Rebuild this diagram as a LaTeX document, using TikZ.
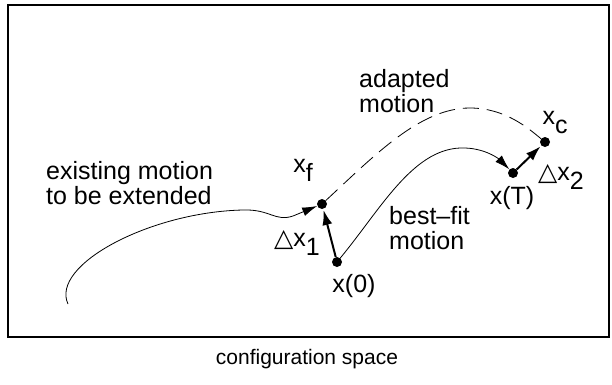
\documentclass[tikz,border=0pt]{standalone}
\usepackage{fontspec}
\setmainfont{Liberation Sans}
\newfontfamily\dejavu{DejaVu Sans}
\usetikzlibrary{arrows.meta}
\begin{document}
\begin{tikzpicture}[x=1pt,y=-1pt,
  lbl/.style={font=\fontsize{25}{25}\selectfont, inner sep=0pt, align=left},
  dot/.style={circle, fill=black, inner sep=0pt, minimum size=10pt},
  thin curve/.style={line width=0.8pt},
  tip/.style={-{Latex[length=15pt,width=9pt]}},
  delta/.style={line width=2pt, -{Latex[length=15pt,width=10pt]}, shorten >=1pt}]
\useasboundingbox (0,0) rectangle (612,384);
\draw[line width=1.3pt] (8,5) rectangle (609,337);
% points
\node[dot] (xf) at (322,204) {};
\node[dot] (x0) at (337,262) {};
\node[dot] (xT) at (513,173) {};
\node[dot] (xc) at (545,142) {};
\coordinate (s) at (68,304);
% labels
\node[lbl, anchor=west] (ex) at (46,183) {existing motion\\to be extended};
\node[lbl, anchor=west] (ad) at (359,91) {adapted\\motion};
\node[lbl, anchor=west] (bf) at (389,228) {best--fit\\motion};
\node[lbl] (lx0) at (354,286) {x(0)};
\node[lbl] (lxT) at (512,198) {x(T)};
\node[lbl] (lxf) at (303,170) {x\raisebox{-9pt}{f}};
\node[lbl] (lxc) at (555,123) {x\raisebox{-9pt}{c}};
\node[lbl] (ld1) at (297,243) {{\dejavu\fontsize{25}{25}\selectfont △}x\raisebox{-9pt}{1}};
\node[lbl] (ld2) at (561,177) {{\dejavu\fontsize{25}{25}\selectfont △}x\raisebox{-9pt}{2}};
\node[lbl, font=\fontsize{21}{22}\selectfont] (cs) at (307,359) {configuration space};
% curves
\draw[thin curve, tip] (s) .. controls (50,265) and (150,212) .. (243,210)
   .. controls (270,209) and (275,222) .. (293,216) -- (xf);
\draw[thin curve, tip] (x0) .. controls (380,210) and (412,150) .. (460,148)
   .. controls (485,147) and (500,160) .. (xT);
\draw[thin curve, dash pattern=on 16pt off 8pt] (xf) .. controls (375,155) and (420,108) .. (470,108)
   .. controls (505,108) and (528,128) .. (xc);
\draw[delta] (x0) -- (xf);
\draw[delta] (xT) -- (xc);
\end{tikzpicture}
\end{document}
